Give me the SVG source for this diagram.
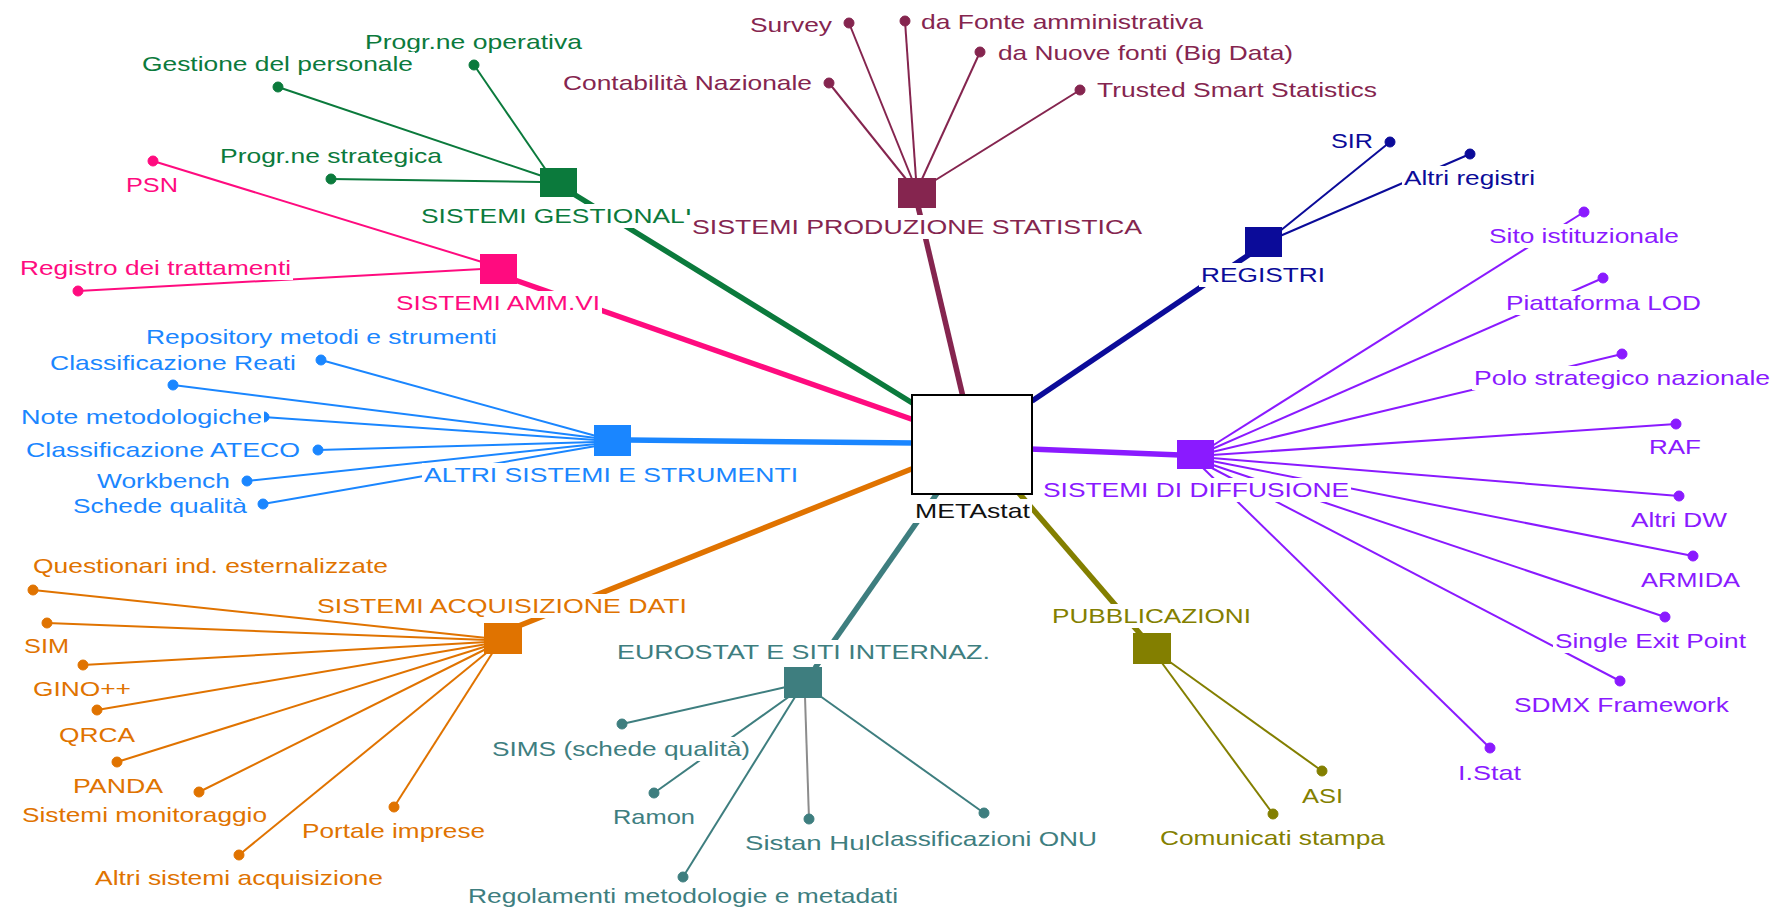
<svg xmlns="http://www.w3.org/2000/svg" width="1774" height="910" viewBox="0 0 1774 910">
<style>
text{font-family:"Liberation Sans",Arial,sans-serif;font-size:21px}
.bg{fill:#fff}
.thin{stroke-width:2;fill:none}
.thick{stroke-width:5.5;fill:none}
.gr{stroke:#0B7A3C;fill:#0B7A3C}
.pk{stroke:#FF0B7F;fill:#FF0B7F}
.mr{stroke:#85254F;fill:#85254F}
.nv{stroke:#0B0B99;fill:#0B0B99}
.vi{stroke:#8A1AFF;fill:#8A1AFF}
.ol{stroke:#837F00;fill:#837F00}
.tl{stroke:#3E7E7F;fill:#3E7E7F}
.or{stroke:#E07300;fill:#E07300}
.bl{stroke:#1A86FF;fill:#1A86FF}
.gy{stroke:#8C8C8C}
text.gr,text.pk,text.mr,text.nv,text.vi,text.ol,text.tl,text.or,text.bl{stroke:none}
circle{stroke:none}
rect.hub{stroke:none}
</style>
<rect width="1774" height="910" fill="#fff"/>
<g id="connectors">
<!-- thin: gestionali -->
<line class="thin gr" x1="474" y1="65" x2="546" y2="170"/>
<line class="thin gr" x1="278" y1="87" x2="542" y2="176"/>
<line class="thin gr" x1="331" y1="179" x2="541" y2="182"/>
<!-- thin: amm.vi -->
<line class="thin pk" x1="153" y1="161" x2="482" y2="262"/>
<line class="thin pk" x1="78" y1="291" x2="482" y2="269"/>
<!-- thin: produzione -->
<line class="thin mr" x1="829" y1="83" x2="906" y2="179"/>
<line class="thin mr" x1="849" y1="23" x2="912" y2="179"/>
<line class="thin mr" x1="905" y1="21" x2="916" y2="179"/>
<line class="thin mr" x1="980" y1="52" x2="922" y2="179"/>
<line class="thin mr" x1="1080" y1="90" x2="934" y2="181"/>
<!-- thin: registri -->
<line class="thin nv" x1="1390" y1="142" x2="1280" y2="231"/>
<line class="thin nv" x1="1470" y1="154" x2="1280" y2="236"/>
<!-- thin: diffusione -->
<line class="thin vi" x1="1212" y1="446" x2="1584" y2="212"/>
<line class="thin vi" x1="1212" y1="449" x2="1603" y2="278"/>
<line class="thin vi" x1="1212" y1="452" x2="1622" y2="354"/>
<line class="thin vi" x1="1212" y1="455" x2="1676" y2="424"/>
<line class="thin vi" x1="1212" y1="458" x2="1679" y2="496"/>
<line class="thin vi" x1="1212" y1="461" x2="1693" y2="556"/>
<line class="thin vi" x1="1210" y1="464" x2="1665" y2="617"/>
<line class="thin vi" x1="1208" y1="466" x2="1620" y2="681"/>
<line class="thin vi" x1="1203" y1="468" x2="1490" y2="748"/>
<!-- thin: pubblicazioni -->
<line class="thin ol" x1="1170" y1="662" x2="1322" y2="771"/>
<line class="thin ol" x1="1162" y1="663" x2="1273" y2="814"/>
<!-- thin: eurostat -->
<line class="thin tl" x1="786" y1="687" x2="622" y2="724"/>
<line class="thin tl" x1="790" y1="696" x2="654" y2="793"/>
<line class="thin tl" x1="795" y1="697" x2="683" y2="877"/>
<line class="thin gy" x1="805" y1="697" x2="809" y2="819"/>
<line class="thin tl" x1="820" y1="696" x2="984" y2="813"/>
<!-- thin: acquisizione -->
<line class="thin or" x1="487" y1="638" x2="33" y2="590"/>
<line class="thin or" x1="487" y1="640" x2="47" y2="623"/>
<line class="thin or" x1="487" y1="642" x2="83" y2="665"/>
<line class="thin or" x1="487" y1="644" x2="97" y2="710"/>
<line class="thin or" x1="487" y1="646" x2="117" y2="762"/>
<line class="thin or" x1="488" y1="648" x2="199" y2="792"/>
<line class="thin or" x1="490" y1="650" x2="239" y2="855"/>
<line class="thin or" x1="493" y1="652" x2="394" y2="807"/>
<!-- thin: altri sistemi -->
<line class="thin bl" x1="596" y1="436" x2="321" y2="360"/>
<line class="thin bl" x1="596" y1="438" x2="173" y2="385"/>
<line class="thin bl" x1="596" y1="440" x2="263" y2="417"/>
<line class="thin bl" x1="596" y1="442" x2="318" y2="450"/>
<line class="thin bl" x1="596" y1="444" x2="247" y2="481"/>
<line class="thin bl" x1="596" y1="446" x2="263" y2="504"/>
<!-- thick: METAstat to hubs -->
<line class="thick gr" x1="572" y1="193" x2="914" y2="404"/>
<line class="thick pk" x1="512" y1="279" x2="914" y2="420"/>
<line class="thick mr" x1="918" y1="206" x2="963" y2="397"/>
<line class="thick nv" x1="1032" y1="401" x2="1250" y2="254"/>
<line class="thick vi" x1="1030" y1="449" x2="1180" y2="455"/>
<line class="thick ol" x1="1018" y1="492" x2="1142" y2="636"/>
<line class="thick tl" x1="938" y1="492" x2="815" y2="668"/>
<line class="thick or" x1="516" y1="627" x2="914" y2="468"/>
<line class="thick bl" x1="628" y1="440" x2="914" y2="443"/>
</g>

<g id="metastat">
<rect x="912" y="395" width="120" height="99" fill="#fff" stroke="#000" stroke-width="2"/>
<rect class="bg" x="913" y="499" width="119" height="24"/>
<text x="915" y="518" textLength="115" lengthAdjust="spacingAndGlyphs" fill="#111">METAstat</text>
</g>

<!-- SISTEMI GESTIONALI -->
<g id="hub-gestionali">
<rect class="hub gr" x="540" y="168" width="37" height="29"/>
<rect class="bg" x="419" y="204" width="275" height="24"/>
<text class="gr" x="421" y="223" textLength="271" lengthAdjust="spacingAndGlyphs">SISTEMI GESTIONALI</text>
</g>
<g id="leaf-progr-operativa">
<circle class="gr" cx="474" cy="65" r="5"/>
<rect class="bg" x="363" y="30" width="221" height="24"/>
<text class="gr" x="365" y="49" textLength="217" lengthAdjust="spacingAndGlyphs">Progr.ne operativa</text>
</g>
<g id="leaf-gestione-personale">
<circle class="gr" cx="278" cy="87" r="5"/>
<rect class="bg" x="140" y="52" width="275" height="24"/>
<text class="gr" x="142" y="71" textLength="271" lengthAdjust="spacingAndGlyphs">Gestione del personale</text>
</g>
<g id="leaf-progr-strategica">
<circle class="gr" cx="331" cy="179" r="5"/>
<rect class="bg" x="218" y="144" width="226" height="24"/>
<text class="gr" x="220" y="163" textLength="222" lengthAdjust="spacingAndGlyphs">Progr.ne strategica</text>
</g>

<!-- SISTEMI AMM.VI -->
<g id="hub-ammvi">
<rect class="hub pk" x="480" y="254" width="37" height="30"/>
<rect class="bg" x="394" y="291" width="208" height="24"/>
<text class="pk" x="396" y="310" textLength="204" lengthAdjust="spacingAndGlyphs">SISTEMI AMM.VI</text>
</g>
<g id="leaf-psn">
<circle class="pk" cx="153" cy="161" r="5"/>
<rect class="bg" x="124" y="173" width="56" height="24"/>
<text class="pk" x="126" y="192" textLength="52" lengthAdjust="spacingAndGlyphs">PSN</text>
</g>
<g id="leaf-registro-trattamenti">
<circle class="pk" cx="78" cy="291" r="5"/>
<rect class="bg" x="18" y="256" width="275" height="24"/>
<text class="pk" x="20" y="275" textLength="271" lengthAdjust="spacingAndGlyphs">Registro dei trattamenti</text>
</g>

<!-- SISTEMI PRODUZIONE STATISTICA -->
<g id="hub-produzione">
<rect class="hub mr" x="898" y="178" width="38" height="30"/>
<rect class="bg" x="686" y="215" width="458" height="24"/>
<text class="mr" x="692" y="234" textLength="450" lengthAdjust="spacingAndGlyphs">SISTEMI PRODUZIONE STATISTICA</text>
</g>
<g id="leaf-survey">
<circle class="mr" cx="849" cy="23" r="5"/>
<rect class="bg" x="748" y="13" width="86" height="24"/>
<text class="mr" x="750" y="32" textLength="82" lengthAdjust="spacingAndGlyphs">Survey</text>
</g>
<g id="leaf-fonte-amm">
<circle class="mr" cx="905" cy="21" r="5"/>
<rect class="bg" x="919" y="10" width="286" height="24"/>
<text class="mr" x="921" y="29" textLength="282" lengthAdjust="spacingAndGlyphs">da Fonte amministrativa</text>
</g>
<g id="leaf-nuove-fonti">
<circle class="mr" cx="980" cy="52" r="5"/>
<rect class="bg" x="996" y="41" width="299" height="24"/>
<text class="mr" x="998" y="60" textLength="295" lengthAdjust="spacingAndGlyphs">da Nuove fonti (Big Data)</text>
</g>
<g id="leaf-contabilita">
<circle class="mr" cx="829" cy="83" r="5"/>
<rect class="bg" x="561" y="71" width="253" height="24"/>
<text class="mr" x="563" y="90" textLength="249" lengthAdjust="spacingAndGlyphs">Contabilità Nazionale</text>
</g>
<g id="leaf-trusted">
<circle class="mr" cx="1080" cy="90" r="5"/>
<rect class="bg" x="1095" y="78" width="284" height="24"/>
<text class="mr" x="1097" y="97" textLength="280" lengthAdjust="spacingAndGlyphs">Trusted Smart Statistics</text>
</g>

<!-- REGISTRI -->
<g id="hub-registri">
<rect class="hub nv" x="1245" y="227" width="37" height="30"/>
<rect class="bg" x="1199" y="263" width="128" height="24"/>
<text class="nv" x="1201" y="282" textLength="124" lengthAdjust="spacingAndGlyphs">REGISTRI</text>
</g>
<g id="leaf-sir">
<circle class="nv" cx="1390" cy="142" r="5"/>
<rect class="bg" x="1329" y="129" width="46" height="24"/>
<text class="nv" x="1331" y="148" textLength="42" lengthAdjust="spacingAndGlyphs">SIR</text>
</g>
<g id="leaf-altri-registri">
<circle class="nv" cx="1470" cy="154" r="5"/>
<rect class="bg" x="1402" y="166" width="135" height="24"/>
<text class="nv" x="1404" y="185" textLength="131" lengthAdjust="spacingAndGlyphs">Altri registri</text>
</g>

<!-- SISTEMI DI DIFFUSIONE -->
<g id="hub-diffusione">
<rect class="hub vi" x="1177" y="440" width="37" height="29"/>
<rect class="bg" x="1041" y="478" width="310" height="24"/>
<text class="vi" x="1043" y="497" textLength="306" lengthAdjust="spacingAndGlyphs">SISTEMI DI DIFFUSIONE</text>
</g>
<g id="leaf-sito">
<circle class="vi" cx="1584" cy="212" r="5"/>
<rect class="bg" x="1487" y="224" width="194" height="24"/>
<text class="vi" x="1489" y="243" textLength="190" lengthAdjust="spacingAndGlyphs">Sito istituzionale</text>
</g>
<g id="leaf-lod">
<circle class="vi" cx="1603" cy="278" r="5"/>
<rect class="bg" x="1504" y="291" width="199" height="24"/>
<text class="vi" x="1506" y="310" textLength="195" lengthAdjust="spacingAndGlyphs">Piattaforma LOD</text>
</g>
<g id="leaf-polo">
<circle class="vi" cx="1622" cy="354" r="5"/>
<rect class="bg" x="1472" y="366" width="300" height="24"/>
<text class="vi" x="1474" y="385" textLength="296" lengthAdjust="spacingAndGlyphs">Polo strategico nazionale</text>
</g>
<g id="leaf-raf">
<circle class="vi" cx="1676" cy="424" r="5"/>
<rect class="bg" x="1647" y="435" width="56" height="24"/>
<text class="vi" x="1649" y="454" textLength="52" lengthAdjust="spacingAndGlyphs">RAF</text>
</g>
<g id="leaf-altri-dw">
<circle class="vi" cx="1679" cy="496" r="5"/>
<rect class="bg" x="1629" y="508" width="100" height="24"/>
<text class="vi" x="1631" y="527" textLength="96" lengthAdjust="spacingAndGlyphs">Altri DW</text>
</g>
<g id="leaf-armida">
<circle class="vi" cx="1693" cy="556" r="5"/>
<rect class="bg" x="1639" y="568" width="103" height="24"/>
<text class="vi" x="1641" y="587" textLength="99" lengthAdjust="spacingAndGlyphs">ARMIDA</text>
</g>
<g id="leaf-single-exit">
<circle class="vi" cx="1665" cy="617" r="5"/>
<rect class="bg" x="1553" y="629" width="195" height="24"/>
<text class="vi" x="1555" y="648" textLength="191" lengthAdjust="spacingAndGlyphs">Single Exit Point</text>
</g>
<g id="leaf-sdmx">
<circle class="vi" cx="1620" cy="681" r="5"/>
<rect class="bg" x="1512" y="693" width="219" height="24"/>
<text class="vi" x="1514" y="712" textLength="215" lengthAdjust="spacingAndGlyphs">SDMX Framework</text>
</g>
<g id="leaf-istat">
<circle class="vi" cx="1490" cy="748" r="5"/>
<rect class="bg" x="1456" y="761" width="67" height="24"/>
<text class="vi" x="1458" y="780" textLength="63" lengthAdjust="spacingAndGlyphs">I.Stat</text>
</g>

<!-- PUBBLICAZIONI -->
<g id="hub-pubblicazioni">
<rect class="hub ol" x="1133" y="633" width="38" height="31"/>
<rect class="bg" x="1050" y="604" width="203" height="24"/>
<text class="ol" x="1052" y="623" textLength="199" lengthAdjust="spacingAndGlyphs">PUBBLICAZIONI</text>
</g>
<g id="leaf-asi">
<circle class="ol" cx="1322" cy="771" r="5"/>
<rect class="bg" x="1300" y="784" width="45" height="24"/>
<text class="ol" x="1302" y="803" textLength="41" lengthAdjust="spacingAndGlyphs">ASI</text>
</g>
<g id="leaf-comunicati">
<circle class="ol" cx="1273" cy="814" r="5"/>
<rect class="bg" x="1158" y="826" width="229" height="24"/>
<text class="ol" x="1160" y="845" textLength="225" lengthAdjust="spacingAndGlyphs">Comunicati stampa</text>
</g>

<!-- EUROSTAT E SITI INTERNAZ. -->
<g id="hub-eurostat">
<rect class="hub tl" x="784" y="667" width="38" height="31"/>
<rect class="bg" x="615" y="640" width="377" height="24"/>
<text class="tl" x="617" y="659" textLength="373" lengthAdjust="spacingAndGlyphs">EUROSTAT E SITI INTERNAZ.</text>
</g>
<g id="leaf-sims">
<circle class="tl" cx="622" cy="724" r="5"/>
<rect class="bg" x="490" y="737" width="262" height="24"/>
<text class="tl" x="492" y="756" textLength="258" lengthAdjust="spacingAndGlyphs">SIMS (schede qualità)</text>
</g>
<g id="leaf-ramon">
<circle class="tl" cx="654" cy="793" r="5"/>
<rect class="bg" x="611" y="805" width="86" height="24"/>
<text class="tl" x="613" y="824" textLength="82" lengthAdjust="spacingAndGlyphs">Ramon</text>
</g>
<g id="leaf-regolamenti">
<circle class="tl" cx="683" cy="877" r="5"/>
<rect class="bg" x="466" y="884" width="434" height="24"/>
<text class="tl" x="468" y="903" textLength="430" lengthAdjust="spacingAndGlyphs">Regolamenti metodologie e metadati</text>
</g>
<g id="leaf-sistan-hub">
<circle class="tl" cx="809" cy="819" r="5"/>
<rect class="bg" x="743" y="831" width="139" height="24"/>
<text class="tl" x="745" y="850" textLength="135" lengthAdjust="spacingAndGlyphs">Sistan Hub</text>
</g>
<g id="leaf-onu">
<circle class="tl" cx="984" cy="813" r="5"/>
<rect class="bg" x="869" y="827" width="230" height="24"/>
<text class="tl" x="871" y="846" textLength="226" lengthAdjust="spacingAndGlyphs">classificazioni ONU</text>
</g>

<!-- SISTEMI ACQUISIZIONE DATI -->
<g id="hub-acquisizione">
<rect class="hub or" x="484" y="623" width="38" height="31"/>
<rect class="bg" x="315" y="594" width="374" height="24"/>
<text class="or" x="317" y="613" textLength="370" lengthAdjust="spacingAndGlyphs">SISTEMI ACQUISIZIONE DATI</text>
</g>
<g id="leaf-questionari">
<circle class="or" cx="33" cy="590" r="5"/>
<rect class="bg" x="31" y="554" width="359" height="24"/>
<text class="or" x="33" y="573" textLength="355" lengthAdjust="spacingAndGlyphs">Questionari ind. esternalizzate</text>
</g>
<g id="leaf-sim">
<circle class="or" cx="47" cy="623" r="5"/>
<rect class="bg" x="22" y="634" width="49" height="24"/>
<text class="or" x="24" y="653" textLength="45" lengthAdjust="spacingAndGlyphs">SIM</text>
</g>
<g id="leaf-gino">
<circle class="or" cx="83" cy="665" r="5"/>
<rect class="bg" x="31" y="677" width="102" height="24"/>
<text class="or" x="33" y="696" textLength="98" lengthAdjust="spacingAndGlyphs">GINO++</text>
</g>
<g id="leaf-qrca">
<circle class="or" cx="97" cy="710" r="5"/>
<rect class="bg" x="57" y="723" width="80" height="24"/>
<text class="or" x="59" y="742" textLength="76" lengthAdjust="spacingAndGlyphs">QRCA</text>
</g>
<g id="leaf-panda">
<circle class="or" cx="117" cy="762" r="5"/>
<rect class="bg" x="71" y="774" width="94" height="24"/>
<text class="or" x="73" y="793" textLength="90" lengthAdjust="spacingAndGlyphs">PANDA</text>
</g>
<g id="leaf-monitoraggio">
<circle class="or" cx="199" cy="792" r="5"/>
<rect class="bg" x="20" y="803" width="249" height="24"/>
<text class="or" x="22" y="822" textLength="245" lengthAdjust="spacingAndGlyphs">Sistemi monitoraggio</text>
</g>
<g id="leaf-altri-acquisizione">
<circle class="or" cx="239" cy="855" r="5"/>
<rect class="bg" x="93" y="866" width="292" height="24"/>
<text class="or" x="95" y="885" textLength="288" lengthAdjust="spacingAndGlyphs">Altri sistemi acquisizione</text>
</g>
<g id="leaf-portale">
<circle class="or" cx="394" cy="807" r="5"/>
<rect class="bg" x="300" y="819" width="187" height="24"/>
<text class="or" x="302" y="838" textLength="183" lengthAdjust="spacingAndGlyphs">Portale imprese</text>
</g>

<!-- ALTRI SISTEMI E STRUMENTI -->
<g id="hub-altri-sistemi">
<rect class="hub bl" x="594" y="425" width="37" height="31"/>
<rect class="bg" x="422" y="463" width="378" height="24"/>
<text class="bl" x="424" y="482" textLength="374" lengthAdjust="spacingAndGlyphs">ALTRI SISTEMI E STRUMENTI</text>
</g>
<g id="leaf-repository">
<circle class="bl" cx="321" cy="360" r="5"/>
<rect class="bg" x="144" y="325" width="355" height="24"/>
<text class="bl" x="146" y="344" textLength="351" lengthAdjust="spacingAndGlyphs">Repository metodi e strumenti</text>
</g>
<g id="leaf-reati">
<circle class="bl" cx="173" cy="385" r="5"/>
<rect class="bg" x="48" y="351" width="250" height="24"/>
<text class="bl" x="50" y="370" textLength="246" lengthAdjust="spacingAndGlyphs">Classificazione Reati</text>
</g>
<g id="leaf-note">
<circle class="bl" cx="264" cy="417" r="5"/>
<rect class="bg" x="19" y="405" width="245" height="24"/>
<text class="bl" x="21" y="424" textLength="241" lengthAdjust="spacingAndGlyphs">Note metodologiche</text>
</g>
<g id="leaf-ateco">
<circle class="bl" cx="318" cy="450" r="5"/>
<rect class="bg" x="24" y="438" width="278" height="24"/>
<text class="bl" x="26" y="457" textLength="274" lengthAdjust="spacingAndGlyphs">Classificazione ATECO</text>
</g>
<g id="leaf-workbench">
<circle class="bl" cx="247" cy="481" r="5"/>
<rect class="bg" x="95" y="469" width="137" height="24"/>
<text class="bl" x="97" y="488" textLength="133" lengthAdjust="spacingAndGlyphs">Workbench</text>
</g>
<g id="leaf-schede">
<circle class="bl" cx="263" cy="504" r="5"/>
<rect class="bg" x="71" y="494" width="178" height="24"/>
<text class="bl" x="73" y="513" textLength="174" lengthAdjust="spacingAndGlyphs">Schede qualità</text>
</g>
</svg>
